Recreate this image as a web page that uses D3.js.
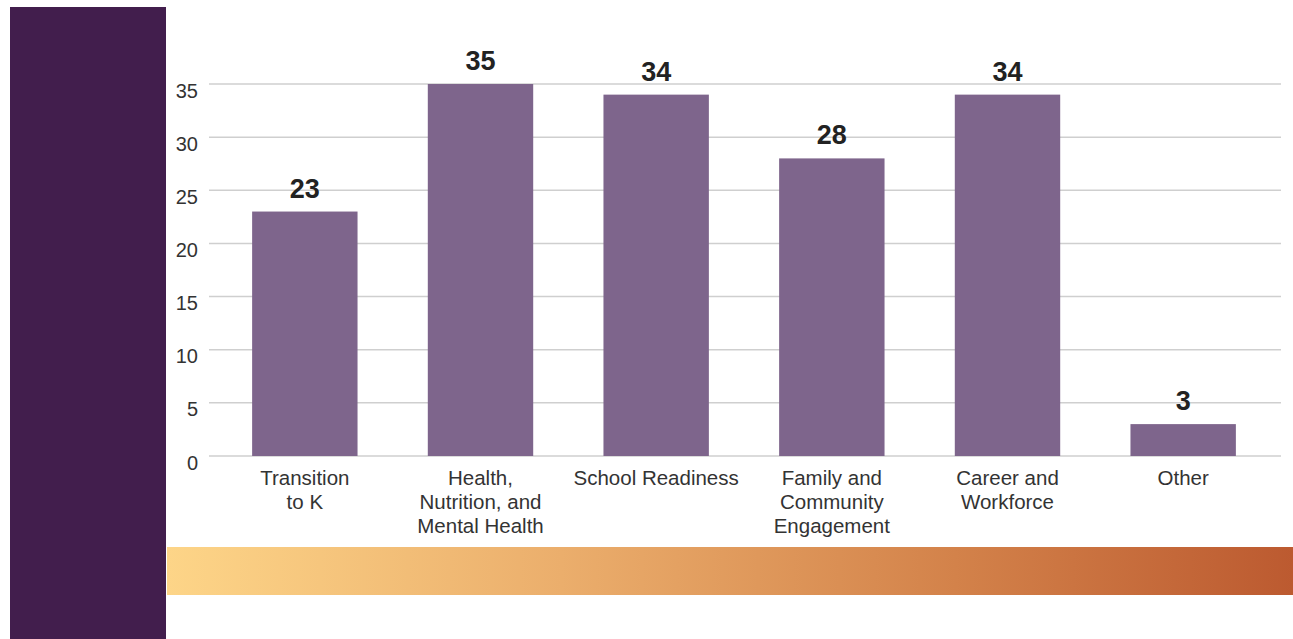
<!DOCTYPE html>
<html><head><meta charset="utf-8">
<script src="https://cdn.jsdelivr.net/npm/d3@7"></script>
<style>html,body{margin:0;padding:0;background:#fff;}svg{display:block;}</style>
</head><body>
<svg id="c" width="1293" height="639"></svg>
<script>
const categories = ["Transition\nto K", "Health,\nNutrition, and\nMental Health", "School Readiness", "Family and\nCommunity\nEngagement", "Career and\nWorkforce", "Other"];
const values = [23, 35, 34, 28, 34, 3];
const yTicks = [0, 5, 10, 15, 20, 25, 30, 35];

const svg = d3.select("#c");
const font = "'Liberation Sans', Arial, Helvetica, sans-serif";

// left panel
svg.append("rect").attr("x",10).attr("y",7).attr("width",156).attr("height",632).attr("fill","#421E4D");

// gradient band
const defs = svg.append("defs");
const g = defs.append("linearGradient").attr("id","grad").attr("x1","0%").attr("x2","100%");
g.append("stop").attr("offset","0%").attr("stop-color","#FDD588");
g.append("stop").attr("offset","35%").attr("stop-color","#EBAE6C");
g.append("stop").attr("offset","70%").attr("stop-color","#D3824A");
g.append("stop").attr("offset","100%").attr("stop-color","#BC5A30");
svg.append("rect").attr("x",167).attr("y",547).attr("width",1126).attr("height",48).attr("fill","url(#grad)");

const x = d3.scaleBand().domain(categories).range([217,1271]).paddingInner(0.4).paddingOuter(0.2);
const y = d3.scaleLinear().domain([0,35]).range([456,84]);

// gridlines
const grid = svg.append("g");
grid.selectAll("line").data(yTicks).join("line")
  .attr("x1",209).attr("x2",1281)
  .attr("y1",d=>y(d)).attr("y2",d=>y(d))
  .attr("stroke","#cfcfcf").attr("stroke-width",1.5);

// y axis labels
const yAxis = d3.axisLeft(y).tickValues(yTicks).tickSize(0).tickPadding(0);
const ya = svg.append("g").attr("transform","translate(198,0)").call(yAxis);
ya.select(".domain").remove();
ya.selectAll("text").attr("font-family",font).attr("font-size",20).attr("fill","#333").attr("dy","0.65em");

// bars
svg.append("g").selectAll("rect").data(values).join("rect")
  .attr("x",(d,i)=>x(categories[i])).attr("width",x.bandwidth())
  .attr("y",d=>y(d)).attr("height",d=>y(0)-y(d))
  .attr("fill","#7E658C");

// value labels
svg.append("g").selectAll("text").data(values).join("text")
  .attr("x",(d,i)=>x(categories[i])+x.bandwidth()/2)
  .attr("y",d=>y(d)-14)
  .attr("text-anchor","middle")
  .attr("font-family",font).attr("font-weight","bold").attr("font-size",27).attr("fill","#222")
  .text(d=>d);

// category labels
const cl = svg.append("g");
categories.forEach(c=>{
  const t = cl.append("text").attr("text-anchor","middle")
    .attr("font-family",font).attr("font-size",20.5).attr("fill","#333");
  c.split("\n").forEach((line,j)=>{
    t.append("tspan").attr("x",x(c)+x.bandwidth()/2).attr("y",485+j*24).text(line);
  });
});
</script>
</body></html>
